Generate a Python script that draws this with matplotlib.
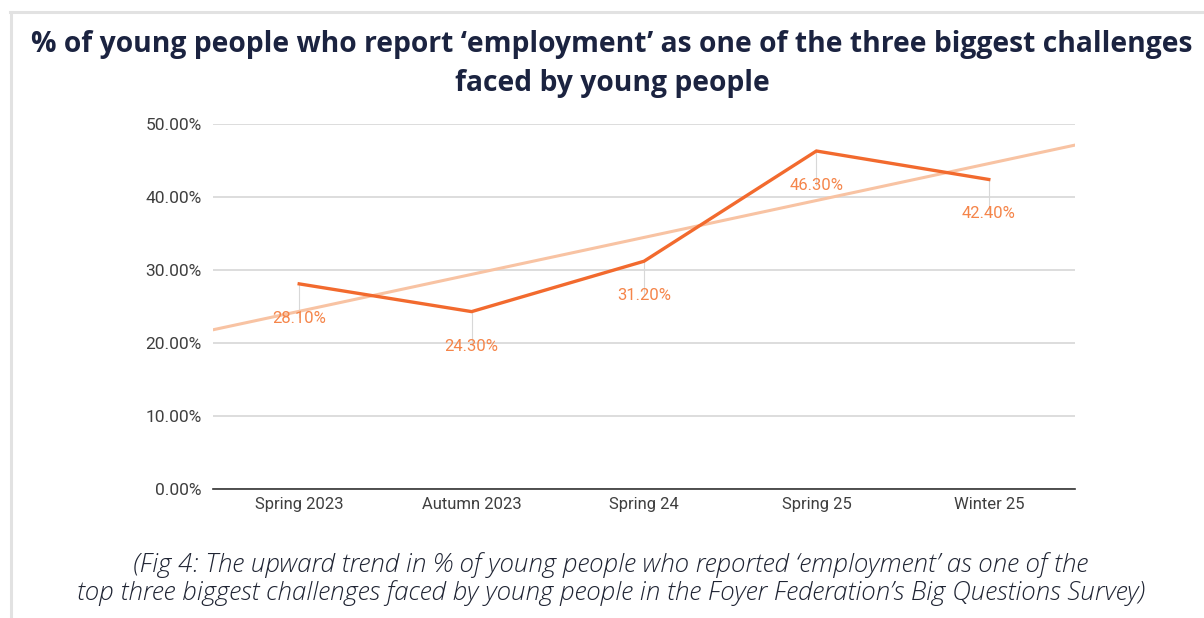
import numpy as np
import matplotlib.pyplot as plt
from matplotlib.lines import Line2D

# survey waves and share of young people naming employment as a top-3 challenge
waves = ["Spring 2023", "Autumn 2023", "Spring 24", "Spring 25", "Winter 25"]
employment_pct = [28.1, 24.3, 31.2, 46.3, 42.4]
y_ticks = [0, 10, 20, 30, 40, 50]

title = "% of young people who report \u2018employment\u2019 as one of the three biggest challenges\nfaced by young people"
caption = ("(Fig 4: The upward trend in % of young people who reported \u2018employment\u2019 as one of the\n"
           "top three biggest challenges faced by young people in the Foyer Federation\u2019s Big Questions Survey)")

line_col = "#f26a2e"
label_col = "#f5854a"
trend_col = "#f8c3a3"
grid_col = "#d3d3d3"
tick_col = "#3f3f3f"

fig = plt.figure(figsize=(12.04, 6.18), dpi=100)
W, H = 1204, 618

# light border round the panel
fig.add_artist(Line2D([10 / W, 1], [1 - 12 / H] * 2, color="#e2e2e2", lw=2.2, transform=fig.transFigure))
fig.add_artist(Line2D([11 / W] * 2, [0, 1 - 12 / H], color="#e2e2e2", lw=2.2, transform=fig.transFigure))

ax = fig.add_axes([213 / W, 1 - 489 / H, (1075 - 213) / W, (489 - 124) / H])

x = np.arange(len(waves))
y = np.array(employment_pct)

# least-squares trend line across the full width
slope, icpt = np.polyfit(x, y, 1)
xt = np.array([-0.5, len(waves) - 0.5])
ax.plot(xt, slope * xt + icpt, color=trend_col, lw=2.2, zorder=2)

ax.plot(x, y, color=line_col, lw=2.4, zorder=3, solid_joinstyle="miter")

# value labels below each point with a thin leader
for xi, yi in zip(x, y):
    ax.plot([xi, xi], [yi, yi - 4.6], color="#d8d8d8", lw=0.8, zorder=1)
    ax.text(xi, yi - 3.7, f"{yi:.2f}%", ha="center", va="top", color=label_col,
            fontsize=12, family="Roboto", zorder=4)

ax.set_xlim(-0.5, len(waves) - 0.5)
ax.set_ylim(0, 50)
ax.set_yticks(y_ticks)
ax.set_yticklabels([f"{v:.2f}%" for v in y_ticks])
ax.set_xticks(x)
ax.set_xticklabels(waves)
for t in ax.get_xticklabels():
    t.set_family("Roboto")
    t.set_fontsize(12)
    t.set_color(tick_col)
for t in ax.get_yticklabels():
    t.set_family("Roboto")
    t.set_fontsize(12.5)
    t.set_color(tick_col)

ax.grid(axis="y", color=grid_col, lw=1.1)
ax.set_axisbelow(True)
for s in ["top", "right", "left"]:
    ax.spines[s].set_visible(False)
ax.spines["bottom"].set_color("#333333")
ax.spines["bottom"].set_linewidth(1.2)
ax.tick_params(axis="both", length=0)
ax.tick_params(axis="y", pad=8)
ax.tick_params(axis="x", pad=6)

fig.text(612 / W, 1 - 64 / H, title, ha="center", va="center", fontsize=20.3,
         fontweight="bold", family="Open Sans", color="#1b2340", linespacing=1.45)
fig.text(611 / W, 1 - 579 / H, caption, ha="center", va="center", fontsize=18.7,
         style="italic", fontweight="light", family="Open Sans", color="#1f2433",
         linespacing=1.12)

fig.savefig("out.png", dpi=100)
